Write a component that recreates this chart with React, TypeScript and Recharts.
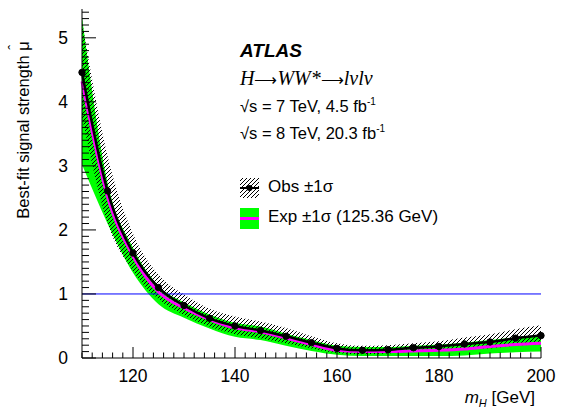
import { ComposedChart, Area, Line, XAxis, YAxis, ReferenceLine } from "recharts";

// Higgs mass points [GeV]
const masses = [110, 115, 120, 125, 130, 135, 140, 145, 150, 155, 160, 165, 170, 175, 180, 185, 190, 195, 200];

// observed best-fit mu and its 1 sigma band
const obsMu = [4.46, 2.61, 1.64, 1.1, 0.82, 0.62, 0.5, 0.43, 0.34, 0.24, 0.15, 0.12, 0.13, 0.16, 0.18, 0.22, 0.25, 0.31, 0.35];
const obsUp = [0.8, 0.55, 0.3, 0.2, 0.17, 0.15, 0.15, 0.14, 0.13, 0.1, 0.08, 0.07, 0.07, 0.07, 0.08, 0.1, 0.12, 0.14, 0.16];
const obsDown = [0.7, 0.5, 0.28, 0.18, 0.15, 0.13, 0.13, 0.12, 0.11, 0.09, 0.07, 0.06, 0.06, 0.06, 0.07, 0.08, 0.1, 0.12, 0.14];

// expected (125.36 GeV injected) and its 1 sigma band
const expMu = [4.32, 2.52, 1.59, 1.03, 0.78, 0.6, 0.47, 0.41, 0.31, 0.21, 0.12, 0.1, 0.1, 0.11, 0.12, 0.14, 0.18, 0.21, 0.23];
const expUp = [1.0, 0.22, 0.13, 0.1, 0.09, 0.08, 0.08, 0.08, 0.07, 0.07, 0.07, 0.07, 0.07, 0.08, 0.09, 0.1, 0.1, 0.11, 0.12];
const expDown = [1.3, 0.42, 0.26, 0.19, 0.15, 0.14, 0.14, 0.13, 0.12, 0.1, 0.07, 0.07, 0.07, 0.08, 0.09, 0.1, 0.11, 0.12, 0.13];

const xMajor = [120, 140, 160, 180, 200];
const yMajor = [0, 1, 2, 3, 4, 5];
const xTicks = Array.from({ length: 46 }, (_, i) => 110 + 2 * i);
const yTicks = Array.from({ length: 55 }, (_, i) => Math.round(i) / 10);

const data = masses.map((m, i) => ({
  m,
  obs: obsMu[i],
  obsBand: [obsMu[i] - obsDown[i], obsMu[i] + obsUp[i]],
  exp: expMu[i],
  expBand: [expMu[i] - expDown[i], expMu[i] + expUp[i]],
}));

const FONT = '"Liberation Sans", Arial, Helvetica, sans-serif';
const SERIF = '"Liberation Serif", "Times New Roman", serif';

const isMajor = (v: number, list: number[]) => list.some((t) => Math.abs(t - v) < 1e-6);

function XTick({ x, y, payload, side }: any) {
  const major = isMajor(payload.value, xMajor);
  const len = major ? 11 : 5.5;
  const dir = side === "top" ? 1 : -1;
  return (
    <g>
      <line x1={x} x2={x} y1={y} y2={y + dir * len} stroke="#000" strokeWidth={1} />
      {side === "bottom" && major && (
        <text x={x} y={y + 24} textAnchor="middle" fontSize={17.5} fontFamily={FONT} fill="#000">
          {payload.value}
        </text>
      )}
    </g>
  );
}

function YTick({ x, y, payload, side }: any) {
  const major = isMajor(payload.value, yMajor);
  const len = major ? 14 : 7;
  const dir = side === "left" ? 1 : -1;
  return (
    <g>
      <line x1={x} x2={x + dir * len} y1={y} y2={y} stroke="#000" strokeWidth={1} />
      {side === "left" && major && (
        <text x={x - 14} y={y} dy="0.36em" textAnchor="end" fontSize={17.5} fontFamily={FONT} fill="#000">
          {payload.value}
        </text>
      )}
    </g>
  );
}

export default function App() {
  return (
    <div style={{ position: "absolute", left: 0, top: 0, width: 565, height: 412, background: "#fff", fontFamily: FONT }}>
      <ComposedChart width={565} height={412} data={data} margin={{ top: 9, right: 24, left: 0, bottom: 0 }}>
        <defs>
          <pattern id="hatch" patternUnits="userSpaceOnUse" width={4} height={4}>
            <path d="M-1,1 l2,-2 M0,4 l4,-4 M3,5 l2,-2" stroke="#000" strokeWidth={1} />
          </pattern>
        </defs>
        <XAxis
          dataKey="m"
          type="number"
          domain={[110, 200]}
          ticks={xTicks}
          interval={0}
          height={54}
          tickSize={0}
          tickMargin={0}
          tickLine={false}
          axisLine={{ stroke: "#000" }}
          tick={(p: any) => <XTick {...p} side="bottom" />}
        />
        <XAxis
          xAxisId="top"
          orientation="top"
          dataKey="m"
          type="number"
          domain={[110, 200]}
          ticks={xTicks}
          interval={0}
          height={0}
          tickSize={0}
          tickMargin={0}
          tickLine={false}
          axisLine={{ stroke: "#000" }}
          tick={(p: any) => <XTick {...p} side="top" />}
        />
        <YAxis
          type="number"
          domain={[0, 5.45]}
          allowDataOverflow
          ticks={yTicks}
          interval={0}
          width={82}
          tickSize={0}
          tickMargin={0}
          tickLine={false}
          axisLine={{ stroke: "#000" }}
          tick={(p: any) => <YTick {...p} side="left" />}
        />
        <YAxis
          yAxisId="right"
          orientation="right"
          type="number"
          domain={[0, 5.45]}
          allowDataOverflow
          ticks={yTicks}
          interval={0}
          width={0}
          tickSize={0}
          tickMargin={0}
          tickLine={false}
          axisLine={{ stroke: "#000" }}
          tick={(p: any) => <YTick {...p} side="right" />}
        />
        <Area dataKey="expBand" type="monotone" fill="#00ff00" fillOpacity={1} stroke="none" isAnimationActive={false} />
        <Area dataKey="obsBand" type="monotone" fill="url(#hatch)" fillOpacity={1} stroke="none" isAnimationActive={false} />
        <ReferenceLine y={1} stroke="#0000ff" strokeWidth={1} />
        <Line dataKey="exp" type="monotone" stroke="#ff00ff" strokeWidth={3} dot={false} isAnimationActive={false} />
        <Line
          dataKey="obs"
          type="monotone"
          stroke="#000"
          strokeWidth={2.5}
          dot={{ r: 3.2, fill: "#000", stroke: "#000", strokeWidth: 1 }}
          isAnimationActive={false}
        />
      </ComposedChart>

      {/* y axis title */}
      <div
        style={{
          position: "absolute",
          left: 23,
          top: 130,
          transform: "translate(-50%, -50%) rotate(-90deg)",
          whiteSpace: "nowrap",
          fontSize: 16.5,
        }}
      >
        Best-fit signal strength{" "}
        <span style={{ position: "relative", display: "inline-block" }}>
          μ<span style={{ position: "absolute", left: 1, top: -9, fontSize: 15 }}>ˆ</span>
        </span>
      </div>

      {/* x axis title */}
      <div style={{ position: "absolute", right: 30, top: 388, fontSize: 17, whiteSpace: "nowrap" }}>
        <i>m</i>
        <sub style={{ fontSize: 11, fontStyle: "italic" }}>H</sub> [GeV]
      </div>

      {/* labels */}
      <div style={{ position: "absolute", left: 240, top: 40, fontSize: 19, fontWeight: "bold", fontStyle: "italic" }}>
        ATLAS
      </div>
      <div
        style={{
          position: "absolute",
          left: 240,
          top: 67,
          fontSize: 20,
          fontStyle: "italic",
          fontFamily: SERIF,
          whiteSpace: "nowrap",
        }}
      >
        H<span style={{ fontStyle: "normal", fontSize: 16 }}>⟶</span>WW*<span style={{ fontStyle: "normal", fontSize: 16 }}>⟶</span>lνlν
      </div>
      <div style={{ position: "absolute", left: 240, top: 96, fontSize: 16.5, whiteSpace: "nowrap" }}>
        √s = 7 TeV, 4.5 fb<sup style={{ fontSize: 10 }}>-1</sup>
      </div>
      <div style={{ position: "absolute", left: 240, top: 123, fontSize: 16.5, whiteSpace: "nowrap" }}>
        √s = 8 TeV, 20.3 fb<sup style={{ fontSize: 10 }}>-1</sup>
      </div>

      {/* legend */}
      <svg style={{ position: "absolute", left: 240, top: 177 }} width={20} height={22}>
        <defs>
          <pattern id="hatchLeg" patternUnits="userSpaceOnUse" width={4} height={4}>
            <path d="M-1,1 l2,-2 M0,4 l4,-4 M3,5 l2,-2" stroke="#000" strokeWidth={1} />
          </pattern>
        </defs>
        <rect x={0} y={1} width={19} height={20} fill="url(#hatchLeg)" />
        <line x1={0} x2={19} y1={11} y2={11} stroke="#000" strokeWidth={2} />
        <circle cx={9.5} cy={11} r={3} fill="#000" />
      </svg>
      <div style={{ position: "absolute", left: 268, top: 177, fontSize: 17, whiteSpace: "nowrap" }}>Obs ±1σ</div>
      <svg style={{ position: "absolute", left: 240, top: 208 }} width={20} height={22}>
        <rect x={0} y={0} width={19} height={21} fill="#00ff00" />
        <line x1={0} x2={19} y1={10.5} y2={10.5} stroke="#ff00ff" strokeWidth={3} />
      </svg>
      <div style={{ position: "absolute", left: 268, top: 207, fontSize: 17, whiteSpace: "nowrap" }}>
        Exp ±1σ (125.36 GeV)
      </div>
    </div>
  );
}
